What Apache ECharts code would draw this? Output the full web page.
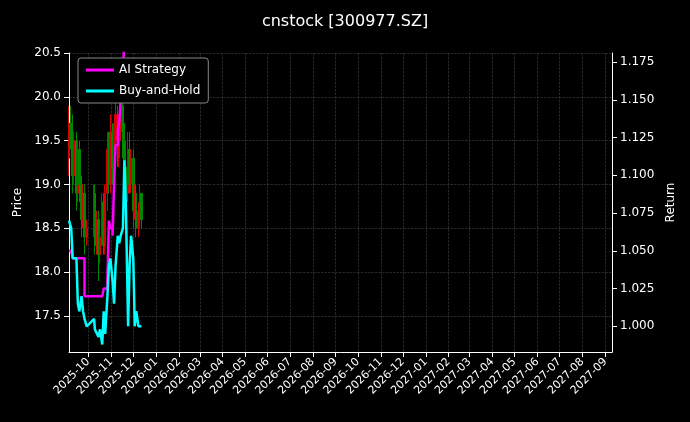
<!DOCTYPE html>
<html><head><meta charset="utf-8">
<script src="https://cdn.jsdelivr.net/npm/echarts@6/dist/echarts.min.js"></script>
<style>body{margin:0;background:#000}#c{width:690px;height:422px}</style>
</head><body><div id="c"></div>
<script>
var dates = ['2025-09-05','2025-09-08','2025-09-10','2025-09-12','2025-09-15','2025-09-17','2025-09-19','2025-09-22','2025-09-24','2025-09-26','2025-09-29','2025-10-09','2025-10-10','2025-10-13','2025-10-15','2025-10-17','2025-10-20','2025-10-22','2025-10-24','2025-10-27','2025-10-29','2025-10-31','2025-11-03','2025-11-05','2025-11-07','2025-11-10','2025-11-12','2025-11-14','2025-11-17','2025-11-19','2025-11-21','2025-11-24','2025-11-26','2025-11-28','2025-12-01','2025-12-03','2025-12-05','2025-12-08','2025-12-10','2025-12-12'];
// open, close, low, high
var opens  = [19.3,19.7,19.6,19.1,19.5,18.9,19.4,19.0,18.6,18.9,18.4,18.5,18.9,18.3,18.6,18.2,18.4,18.8,18.3,18.9,19.4,19.0,19.6,19.2,19.5,19.8,19.3,19.6,19.9,19.5,19.2,18.9,19.4,19.0,19.3,18.7,18.9,18.5,18.7,18.9];
var closes = [19.7,19.6,19.1,19.5,18.9,19.4,19.0,18.6,18.9,18.4,18.5,18.9,18.3,18.6,18.2,18.4,18.8,18.3,18.9,19.4,19.0,19.6,19.2,19.5,19.8,19.3,19.6,19.9,19.5,19.2,18.9,19.4,19.0,19.3,18.7,18.9,18.5,18.7,18.9,18.6];
var lows   = [19.1,19.4,18.9,19.0,18.7,18.8,18.8,18.4,18.5,18.2,18.3,18.4,18.2,18.2,17.9,18.1,18.3,18.2,18.2,18.7,18.9,18.9,19.0,19.1,19.3,19.2,19.2,19.5,19.3,19.0,18.7,18.8,18.9,18.9,18.5,18.6,18.4,18.4,18.6,18.5];
var highs  = [19.9,19.9,19.8,19.6,19.6,19.5,19.5,19.1,19.0,19.0,18.6,19.0,19.0,18.7,18.7,18.5,18.9,18.9,19.0,19.6,19.6,19.8,19.7,19.7,20.0,19.9,19.8,20.1,20.0,19.7,19.3,19.6,19.6,19.4,19.4,19.0,19.0,18.8,19.0,18.9];
var aiReturn = [1.05,1.05,1.045,1.045,1.045,1.045,1.045,1.045,1.045,1.02,1.02,1.02,1.02,1.02,1.02,1.02,1.02,1.025,1.025,1.03,1.07,1.065,1.06,1.095,1.12,1.13,1.135,1.15,1.17,1.19,null,null,null,null,null,null,null,null,null,null];
var bhReturn = [1.07,1.065,1.045,1.045,1.045,1.015,1.01,1.02,1.01,1.005,1.0,1.005,0.998,0.995,0.993,0.998,0.988,1.01,0.995,1.02,1.04,1.045,1.03,1.015,1.04,1.06,1.055,1.06,1.065,1.11,1.08,1.0,1.04,1.06,1.045,1.0,1.01,1.0,1.0,1.0];
var priceTicks = [17.5, 18.0, 18.5, 19.0, 19.5, 20.0, 20.5];
var returnTicks = [1.0, 1.025, 1.05, 1.075, 1.1, 1.125, 1.15, 1.175];

var candles = dates.map(function (d, i) { return [d, opens[i], closes[i], lows[i], highs[i]]; });
var zip = function (arr) { return dates.map(function (d, i) { return [d, arr[i]]; }); };
var axisStyle = { color: '#fff' };

var myChart = echarts.init(document.getElementById('c'));
myChart.setOption({
    backgroundColor: '#000',
    animation: false,
    title: { text: 'cnstock [300977.SZ]', left: 'center', top: 9, textStyle: { color: '#fff', fontSize: 16, fontWeight: 'normal', fontFamily: 'DejaVu Sans' } },
    legend: {
        left: 78, top: 58, orient: 'vertical', itemWidth: 28, itemHeight: 3, itemGap: 9,
        backgroundColor: '#000', borderColor: '#888', borderWidth: 1, borderRadius: 3, padding: [6, 8],
        textStyle: { color: '#fff', fontSize: 12, fontFamily: 'DejaVu Sans' },
        data: [{ name: 'AI Strategy', icon: 'rect' }, { name: 'Buy-and-Hold', icon: 'rect' }]
    },
    grid: { left: 69, right: 78, top: 53, bottom: 70 },
    xAxis: {
        type: 'time', min: '2025-09-05', max: '2027-09-10',
        minInterval: 28 * 864e5, maxInterval: 31 * 864e5,
        axisLine: { lineStyle: axisStyle },
        axisTick: { lineStyle: axisStyle },
        axisLabel: { color: '#fff', rotate: 45, fontSize: 11, fontFamily: 'DejaVu Sans', formatter: '{yyyy}-{MM}', hideOverlap: false },
        splitLine: { show: true, lineStyle: { color: '#444', type: 'dashed', width: 0.6 } }
    },
    yAxis: [{
        type: 'value', min: 17.09, max: 20.5,
        name: 'Price', nameLocation: 'middle', nameGap: 42, nameTextStyle: { color: '#fff', fontSize: 12, fontFamily: 'DejaVu Sans' },
        axisLine: { show: true, lineStyle: axisStyle },
        axisTick: { show: true, customValues: priceTicks },
        axisLabel: { color: '#fff', fontSize: 12, fontFamily: 'DejaVu Sans', customValues: priceTicks, formatter: function (v) { return v.toFixed(1); } },
        splitLine: { lineStyle: { color: '#444', type: 'dashed', width: 0.6 } }
    }, {
        type: 'value', min: 0.983, max: 1.181,
        name: 'Return', nameLocation: 'middle', nameGap: 52, nameTextStyle: { color: '#fff', fontSize: 12, fontFamily: 'DejaVu Sans' },
        axisLine: { show: true, lineStyle: axisStyle },
        axisTick: { show: true, customValues: returnTicks },
        axisLabel: { color: '#fff', fontSize: 12, fontFamily: 'DejaVu Sans', customValues: returnTicks, formatter: function (v) { return v.toFixed(3); } },
        splitLine: { show: false }
    }],
    series: [{
        type: 'candlestick', yAxisIndex: 0, barWidth: 2, data: candles,
        itemStyle: { color: '#d00', color0: '#080', borderColor: '#d00', borderColor0: '#080' }
    }, {
        name: 'AI Strategy', type: 'line', yAxisIndex: 1, step: 'end', showSymbol: false, data: zip(aiReturn),
        lineStyle: { color: '#ff00ff', width: 2.5 }, itemStyle: { color: '#ff00ff' }
    }, {
        name: 'Buy-and-Hold', type: 'line', yAxisIndex: 1, showSymbol: false, data: zip(bhReturn),
        lineStyle: { color: '#00ffff', width: 2.5 }, itemStyle: { color: '#00ffff' }
    }]
});
</script></body></html>
